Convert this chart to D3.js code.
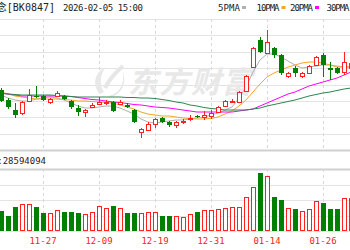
<!DOCTYPE html>
<html>
<head>
<meta charset="utf-8">
<script src="https://cdn.jsdelivr.net/npm/d3@7"></script>
<style>
body { margin: 0; background: #fff; }
svg { display: block; }
</style>
</head>
<body>
<script>
// trading days shown (first two fall off the left edge)
var dates = ["11-17","11-18","11-19","11-20","11-21","11-24","11-25","11-26","11-27","11-28",
  "12-01","12-02","12-03","12-04","12-05","12-08","12-09","12-10","12-11","12-12",
  "12-15","12-16","12-17","12-18","12-19","12-22","12-23","12-24","12-25","12-26",
  "12-29","12-30","12-31","01-05","01-06","01-07","01-08","01-09","01-12","01-13",
  "01-14","01-15","01-16","01-19","01-20","01-21","01-22","01-23","01-26","01-27",
  "01-28","01-29","01-30"];

var open  = [1064,1062,1060,1050,1040,1037,1049,1054,1054,1048, 1054,1054,1049,1042,1038, 1043,1046,1047,1048,1046,
  1045,1040,1018,1020,1026, 1032,1028,1025,1028,1031, 1034,1033,1034, 1038,1044,1048,1048,1059,
  1083,1110,1097,1102,1095, 1074,1082,1074,1077,1085, 1095,1082,1082,1078,1082];
var high  = [1065,1064,1062,1052,1047,1049,1061,1064,1055,1052, 1059,1055,1050,1045,1041, 1047,1053,1050,1049,1050,
  1047,1041,1022,1028,1032, 1033,1029,1029,1031,1035, 1035,1039,1040, 1044,1050,1051,1059,1075,
  1103,1113,1120,1103,1096, 1078,1084,1078,1085,1094, 1097,1088,1083,1098,1090];
var low   = [1059,1056,1048,1041,1032,1035,1048,1052,1049,1046, 1053,1050,1041,1034,1033, 1042,1045,1045,1038,1045,
  1042,1027,1012,1019,1022, 1027,1023,1022,1026,1029, 1032,1030,1031, 1037,1043,1047,1047,1058,
  1082,1097,1096,1092,1075, 1072,1073,1072,1076,1084, 1073,1070,1076,1075,1080];
var close = [1060,1058,1049,1043,1035,1048,1055,1053,1050,1051, 1057,1051,1043,1038,1040, 1045,1048,1048,1039,1048,
  1043,1028,1021,1026,1031, 1028,1025,1028,1029,1032, 1033,1035,1037, 1043,1049,1049,1058,1074,
  1102,1098,1108,1095,1077, 1077,1077,1077,1084,1093, 1085,1080,1077,1088,1087];

var ma5  = [1058,1057,1055,1052,1050,1049,1049,1051,1052,1053, 1052,1050,1047,1044,1042, 1042,1043,1044,1044,1042,
  1039,1036,1031,1028,1027, 1028,1029,1030,1030,1031, 1032,1033,1035, 1037,1040,1043,1052,1063,
  1078,1090,1096,1096,1093, 1089,1085,1082,1083,1084, 1085,1085,1084,1083,1083];
var ma10 = [1062,1060,1058,1056,1054,1053,1052,1051,1051,1051, 1051,1050.5,1050,1049,1049, 1048.5,1048,1047.5,1047,1045,
  1043,1041,1038,1036,1035, 1034,1034,1033,1032,1031.5, 1031,1031,1031.5, 1033,1036,1039,1044,1050,
  1058,1066,1073,1077,1080, 1083,1085,1087,1088,1088, 1087,1085,1083,1083,1083];
var ma20 = [1059,1058,1057,1056,1055,1054,1054,1054,1054,1054, 1054,1054,1053.5,1052.5,1051.5, 1050.5,1050,1049,1048,1047.5,
  1046.5,1045.5,1045,1044,1043, 1042.5,1042,1041,1040,1039, 1038,1038,1038, 1038,1038,1038,1039,1040,
  1041,1044,1047,1050,1053, 1056,1058,1061,1064,1066, 1068,1070,1072,1075,1078];
var ma30 = [1057.5,1057,1056.5,1056,1055.5,1055,1055,1055,1055,1055, 1054.5,1054,1053.5,1053,1053, 1053,1053,1053,1053,1053,
  1052.5,1052.5,1052,1052,1051.5, 1050.5,1049.5,1048,1047,1045, 1044,1042.5,1041.5, 1041,1040,1040,1040,1040,
  1041,1042,1044,1045.5,1047, 1048.5,1050,1052,1054,1055.5, 1057,1058,1059.5,1061,1062];

// volume, millions of shares
var volume = [30,28,25.8,19.7,31.0,34.8,34.8,31.0,23.6,23.6, 27.1,24.9,24.9,23.6,22.3, 24.5,32.3,29.7,32.3,29.7,
  22.8,22.8,22.8,24.5,24.5, 19.0,19.0,19.0,18.1,21.9, 24.5,26.7,26.7, 28.4,29.3,31.4,31.4,44.3,
  57.2,74.5,71.4,44.3,40.0, 29.3,28.0,25.8,28.0,38.7, 35.7,28.0,28.0,43.0,42.2];

var tickLabels = ["11-17","11-27","12-09","12-19","12-31","01-14","01-26"];
var maNames = ["5PMA","10PMA","20PMA","30PMA"];
var maColors = ["#b0b0b0","#f5a623","#ff00ff","#2f8552"];

var width = 350, height = 250;
var red = "#ff2020", green = "#008000";

var svg = d3.select("body").append("svg")
    .attr("width", width)
    .attr("height", height);

var x = d3.scalePoint().domain(dates).range([-13, 351]);
var y = d3.scaleLinear().domain([1000, 1131]).range([150, 19]);
var yv = d3.scaleLinear().domain([0, 80]).range([231, 169]);

// horizontal grid, price panel split in 8, volume in 4
var pGrid = d3.range(9).map(function(k) { return 1000 + k * 131 / 8; });
svg.selectAll(".pgrid").data(pGrid).enter().append("line")
    .attr("x1", 0).attr("x2", width)
    .attr("y1", function(d) { return Math.round(y(d)) + 0.5; })
    .attr("y2", function(d) { return Math.round(y(d)) + 0.5; })
    .style("stroke", function(d, i) { return i == 0 ? "#d0d0d0" : "#e4e4e4"; })
    .style("stroke-width", function(d, i) { return i == 0 ? 2 : 1; });

var vGrid = d3.range(5).map(function(k) { return k * 20; });
svg.selectAll(".vgrid").data(vGrid).enter().append("line")
    .attr("x1", 0).attr("x2", width)
    .attr("y1", function(d) { return Math.round(yv(d)) + 0.5; })
    .attr("y2", function(d) { return Math.round(yv(d)) + 0.5; })
    .style("stroke", function(d, i) { return i == 4 ? "#d0d0d0" : "#e4e4e4"; })
    .style("stroke-width", function(d, i) { return i == 4 ? 2 : 1; });

// vertical dashed lines at the labelled days
tickLabels.forEach(function(t) {
  var xx = Math.round(x(t)) + 0.5;
  [[19, 150], [169, 231]].forEach(function(r) {
    svg.append("line")
      .attr("x1", xx).attr("x2", xx).attr("y1", r[0]).attr("y2", r[1])
      .style("stroke", "#d8d8d8").style("stroke-dasharray", "3,3");
  });
});

// watermark
var wm = svg.append("g").style("fill", "none").style("stroke", "#e6e6e6");
wm.append("path").attr("d", "M100,94 C92,86 94,72 106,67 C100,74 99,84 104,92 Z").style("fill", "#e8e8e8").style("stroke", "none");
wm.append("path").attr("d", "M108,96 C120,94 126,82 122,70 C127,80 124,92 112,97 Z").style("fill", "#e8e8e8").style("stroke", "none");
wm.append("path").attr("d", "M105,88 C110,78 116,72 123,66").style("stroke-width", 4);
svg.append("text")
    .attr("x", 128).attr("y", 93)
    .attr("textLength", 124)
    .style("font-family", "Noto Sans CJK SC")
    .style("font-size", "30px")
    .style("font-weight", "bold")
    .style("font-style", "italic")
    .style("fill", "#e8e8e8")
    .text("东方财富");

// moving averages
var maData = [ma5, ma10, ma20, ma30];
var line = d3.line()
    .x(function(d, i) { return x(dates[i]); })
    .y(function(d) { return y(d); });
maData.forEach(function(m, k) {
  svg.append("path")
    .datum(m)
    .attr("d", line)
    .style("fill", "none")
    .style("stroke", maColors[k])
    .style("stroke-width", 1);
});

// candles
var candles = dates.map(function(d, i) {
  return {date: d, o: open[i], h: high[i], l: low[i], c: close[i], v: volume[i]};
});
var g = svg.append("g");
candles.forEach(function(d) {
  var cx = Math.round(x(d.date));
  var up = d.c >= d.o;
  var top = Math.round(y(Math.max(d.o, d.c)));
  var bot = Math.round(y(Math.min(d.o, d.c)));
  var hi = Math.round(y(d.h)), lo = Math.round(y(d.l));
  var col = up ? red : green;
  if (up) {
    g.append("line").attr("x1", cx + 0.5).attr("x2", cx + 0.5).attr("y1", hi).attr("y2", top).style("stroke", col);
    g.append("line").attr("x1", cx + 0.5).attr("x2", cx + 0.5).attr("y1", bot + 1).attr("y2", lo).style("stroke", col);
    g.append("rect").attr("x", cx - 1.5).attr("y", top + 0.5)
      .attr("width", 4).attr("height", Math.max(bot - top, 1))
      .style("fill", "#fff").style("stroke", col);
  } else {
    g.append("line").attr("x1", cx + 0.5).attr("x2", cx + 0.5).attr("y1", hi).attr("y2", lo).style("stroke", col);
    g.append("rect").attr("x", cx - 2).attr("y", top)
      .attr("width", 5).attr("height", Math.max(bot - top, 1))
      .style("fill", col);
  }
});

// volume bars
candles.forEach(function(d) {
  var cx = Math.round(x(d.date));
  var up = d.c >= d.o;
  var t = Math.round(yv(d.v));
  if (up) {
    svg.append("rect").attr("x", cx - 1.5).attr("y", t + 0.5)
      .attr("width", 4).attr("height", 231 - t - 1)
      .style("fill", "#fff").style("stroke", red);
  } else {
    svg.append("rect").attr("x", cx - 2).attr("y", t)
      .attr("width", 5).attr("height", 231 - t)
      .style("fill", green);
  }
});

// date labels
svg.selectAll(".tick").data(tickLabels).enter().append("text")
    .attr("x", function(d) { return x(d); })
    .attr("y", 244)
    .attr("text-anchor", "middle")
    .style("font-family", "DejaVu Sans Mono")
    .style("font-size", "9px")
    .style("fill", red)
    .text(function(d) { return d; });

// title
svg.append("text")
    .attr("x", 55).attr("y", 11)
    .attr("text-anchor", "end")
    .style("font-family", "DejaVu Sans Mono, Noto Sans CJK SC")
    .style("font-size", "10px")
    .style("fill", "#222")
    .text("概念[BK0847]");
svg.append("text")
    .attr("x", 63).attr("y", 11)
    .attr("textLength", 80)
    .style("font-family", "DejaVu Sans Mono")
    .style("font-size", "9px")
    .style("fill", "#222")
    .text("2026-02-05 15:00");

// legend
var lx = [218, 256.5, 290, 326.5];
maNames.forEach(function(n, k) {
  var w = n.length == 4 ? 22 : 23;
  svg.append("text")
    .attr("x", lx[k]).attr("y", 11)
    .attr("textLength", w)
    .style("font-family", "DejaVu Sans Mono")
    .style("font-size", "9px")
    .style("fill", "#222")
    .text(n);
  svg.append("rect")
    .attr("x", lx[k] + w + 2).attr("y", 6)
    .attr("width", 4).attr("height", 3)
    .style("fill", maColors[k]);
});

// volume readout
svg.append("text")
    .attr("x", 46).attr("y", 164)
    .attr("text-anchor", "end")
    .style("font-family", "DejaVu Sans Mono, Noto Sans CJK SC")
    .style("font-size", "9px")
    .style("fill", "#222")
    .text("成交量:28594094");
</script>
</body>
</html>
